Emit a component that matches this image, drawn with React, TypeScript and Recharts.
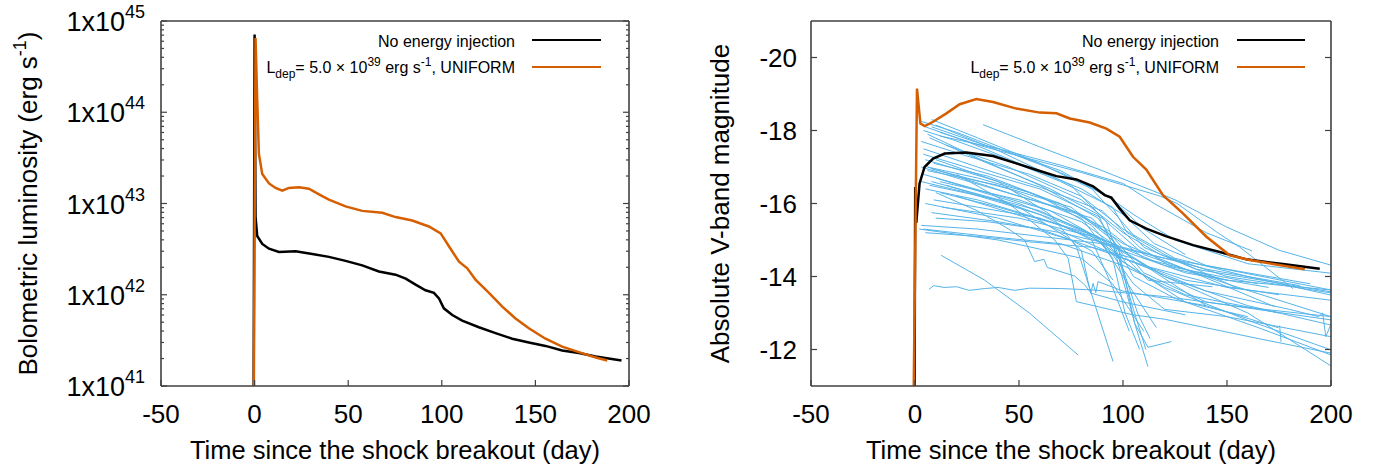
import { LineChart, Line, XAxis, YAxis, Legend } from 'recharts';

const FONT = '"Liberation Sans", Arial, Helvetica, sans-serif';
const AXIS = '#404040';
const BLACK = '#000000';
const ORANGE = '#d55e00';
const BLUE = '#56b4e9';

type Pt = [number, number];

const timeTicks = [-50, 0, 50, 100, 150, 200];
const lumDecades = [41, 42, 43, 44, 45];
const lumMinor = [2, 3, 4, 5, 6, 7, 8, 9];
const magTicks = [-20, -18, -16, -14, -12];

// bolometric light curves, [day, erg/s]
const lumNoInjection: Pt[] = [
  [-0.5, 1e41], [0, 7.1e44], [0.5, 7.2e42], [1.4, 4.4e42], [4.1, 3.6e42], [7.7, 3.2e42],
  [13, 2.95e42], [21.9, 3.0e42], [30.8, 2.8e42], [39.7, 2.6e42], [48.6, 2.35e42],
  [57.5, 2.1e42], [66.4, 1.8e42], [75.3, 1.66e42], [80.7, 1.5e42], [86, 1.29e42],
  [91.3, 1.12e42], [95.8, 1.05e42], [98.5, 9.1e41], [101.1, 7.1e41], [105.6, 6.0e41],
  [110.9, 5.2e41], [119.8, 4.4e41], [128.7, 3.8e41], [137.6, 3.3e41], [146.5, 3.0e41],
  [155.4, 2.75e41], [164.3, 2.45e41], [173.2, 2.3e41], [182.2, 2.1e41], [196, 1.9e41],
];
const lumUniform: Pt[] = [
  [-0.4, 1e41], [0.5, 6.5e44], [1.4, 1.35e44], [2.3, 3.5e43], [4.1, 2.1e43], [7.7, 1.66e43],
  [11.2, 1.48e43], [14.8, 1.38e43], [18.3, 1.48e43], [23.7, 1.51e43], [29, 1.45e43],
  [34.4, 1.26e43], [39.7, 1.1e43], [48.6, 9.3e42], [57.5, 8.3e42], [68.2, 7.9e42],
  [75.3, 7.1e42], [84.2, 6.5e42], [93.1, 5.6e42], [99.4, 4.7e42], [103.8, 3.4e42],
  [109.2, 2.3e42], [113.6, 1.95e42], [118.1, 1.45e42], [125.2, 1.05e42], [132.3, 7.4e41],
  [139.4, 5.5e41], [146.5, 4.3e41], [155.4, 3.3e41], [164.3, 2.7e41], [173.2, 2.35e41],
  [182.2, 2.05e41], [188.4, 1.9e41],
];

// V-band light curves, [day, mag]
const magNoInjection: Pt[] = [
  [-0.2, -11], [0.1, -16.45], [0.6, -15.47], [2.2, -16.55], [4.6, -17.0], [8.7, -17.23],
  [14.3, -17.37], [24.7, -17.4], [37.5, -17.3], [48.7, -17.1], [60, -16.89], [68, -16.75],
  [77.6, -16.66], [85.6, -16.47], [91.2, -16.23], [94.4, -16.16], [98.4, -15.86],
  [103.2, -15.54], [111.2, -15.31], [120.9, -15.1], [133.7, -14.86], [146.5, -14.67],
  [159.3, -14.47], [176.9, -14.34], [194.6, -14.21],
];
const magUniform: Pt[] = [
  [-0.6, -11], [0.96, -19.15], [2.6, -18.19], [4.7, -18.12], [8.7, -18.24], [15.1, -18.47],
  [21.5, -18.72], [29.5, -18.86], [37.5, -18.78], [48.7, -18.6], [60, -18.49], [68, -18.47],
  [74.4, -18.33], [84, -18.22], [92, -18.05], [98.4, -17.83], [104.8, -17.28],
  [111.2, -16.93], [119.2, -16.23], [128.8, -15.73], [140.1, -15.09], [151.3, -14.58],
  [160.9, -14.45], [173.7, -14.33], [187.4, -14.2],
];

// observed type II SNe, one array per object
const observedV: Pt[][] = [
  [[32.7, -18.16], [60, -17.55], [90, -16.9], [120, -16.22], [125, -16.1], [150, -15.35], [175, -14.72], [200, -14.31]],
  [[12, -17.95], [33.5, -17.55], [80, -16.85], [118, -16.2], [126, -16.0], [146, -15.18], [156, -14.81], [181.7, -13.67]],
  [[3, -18.25], [20, -17.95], [45, -17.4], [70, -16.85], [90, -16.3], [105, -15.7], [125, -15.0], [160, -14.35], [200, -14.09]],
  [[5, -18.1], [25, -17.7], [50, -17.1], [80, -16.4], [100, -15.7], [115, -14.9], [140, -14.3], [200, -13.63]],
  [[4, -18.0], [18, -17.75], [40, -17.3], [70, -16.6], [95, -15.9], [102, -15.2], [120, -14.6], [155, -13.68]],
  [[8, -18.3], [30, -17.8], [60, -17.1], [85, -16.4], [98, -15.6], [110, -14.8], [135, -14.2], [200, -13.58]],
  [[6, -17.9], [30, -17.25], [60, -16.5], [88, -15.6], [100, -14.6], [112, -13.9], [143, -13.72]],
  [[10, -18.15], [40, -17.45], [75, -16.5], [92, -15.5], [100, -14.2], [107, -13.0], [113, -12.3]],
  [[3, -17.7], [25, -17.3], [55, -16.8], [80, -16.2], [100, -15.3], [125, -14.5], [160, -14.0], [200, -13.49]],
  [[7, -17.8], [35, -17.1], [65, -16.4], [88, -15.7], [98, -14.5], [105, -13.1], [111, -12.0]],
  [[12, -17.85], [40, -17.5], [70, -16.9], [95, -16.1], [110, -15.3], [130, -14.6]],
  [[4, -17.5], [30, -17.0], [60, -16.45], [90, -15.8], [108, -14.8], [125, -14.2], [150, -13.9]],
  [[8, -18.1], [33.5, -17.6], [70, -17.05], [100, -16.55], [115, -16.0], [140, -15.2], [162, -14.7]],
  [[4, -17.35], [30, -16.9], [60, -16.4], [90, -15.6], [110, -14.6], [150, -13.8], [200, -12.9]],
  [[5, -17.2], [40, -16.6], [70, -16.0], [95, -15.1], [110, -14.1], [140, -13.3], [200, -12.81]],
  [[6, -17.0], [30, -16.7], [55, -16.3], [80, -15.7], [100, -14.9], [130, -14.2], [173, -13.17]],
  [[8, -16.95], [45, -16.4], [80, -15.6], [95, -14.5], [101, -13.0], [108, -12.0]],
  [[4, -16.8], [35, -16.3], [65, -15.8], [90, -15.0], [105, -13.8], [120, -13.1], [150, -12.9], [200, -12.35]],
  [[10, -16.7], [50, -16.0], [80, -15.3], [100, -14.5], [130, -13.9], [175, -13.5]],
  [[3, -16.6], [25, -16.3], [60, -15.7], [85, -15.0], [95, -13.7], [103, -12.5]],
  [[7, -16.5], [40, -16.1], [70, -15.5], [95, -14.9], [120, -14.3], [165, -13.8]],
  [[5, -16.4], [30, -16.1], [65, -15.5], [88, -15.1], [100, -14.0], [116, -12.6]],
  [[9, -17.1], [35, -16.75], [60, -16.2], [85, -15.4], [100, -14.4], [120, -13.7], [160, -12.8], [200, -11.99]],
  [[6, -16.9], [40, -16.5], [75, -15.9], [95, -15.0], [105, -14.0], [125, -13.4], [165, -12.6], [200, -11.85]],
  [[12, -16.6], [50, -16.1], [80, -15.5], [100, -14.7], [120, -14.0], [160, -13.0], [200, -11.55]],
  [[3, -17.0], [20, -16.7], [50, -16.2], [75, -15.8], [92, -15.3], [110, -14.5], [150, -13.9], [200, -13.63]],
  [[15, -17.6], [45, -17.0], [80, -16.1], [100, -15.2], [118, -14.6], [150, -14.0], [200, -13.55]],
  [[12, -16.3], [40, -15.9], [70, -15.4], [95, -14.8], [130, -14.1], [170, -13.7]],
  [[9, -16.1], [30, -15.9], [60, -15.6], [90, -15.0], [120, -14.0], [160, -13.2], [200, -12.67]],
  [[13, -15.9], [50, -15.6], [85, -15.1], [100, -14.4], [130, -13.3], [160, -12.9]],
  [[8, -15.75], [40, -15.5], [70, -15.2], [100, -14.8], [140, -14.2], [185, -13.75]],
  [[3, -15.4], [30, -15.3], [60, -15.1], [90, -14.9], [120, -14.5], [160, -14.1], [190, -13.8]],
  [[4, -15.3], [35, -15.1], [70, -14.9], [100, -14.3], [130, -13.5], [175, -13.0]],
  [[5, -15.2], [30, -15.1], [55, -14.95], [85, -14.8], [105, -14.5], [140, -13.2], [174.5, -12.6], [175.3, -12.65], [176, -12.21]],
  [[2, -15.3], [40, -15.0], [80, -14.5], [95, -13.8], [110, -12.5]],
  [[10, -15.6], [35, -15.5], [60, -15.3], [90, -14.7], [110, -14.3], [150, -13.7], [200, -13.35]],
  [[20, -16.2], [60, -15.5], [100, -14.5], [140, -13.6], [180, -13.1], [194, -12.9], [196, -13.0], [197.5, -12.35], [200, -12.7]],
  [[12.6, -14.58], [33.5, -13.9], [55, -13.0], [78.4, -11.85]],
  [[6.7, -13.65], [9, -13.75], [14, -13.7], [20, -13.72], [26, -13.62], [33.5, -13.67], [40, -13.7], [48, -13.62], [55, -13.68], [70, -13.67], [86, -13.63], [120, -13.45], [160, -13.15], [200, -12.9]],
  [[10, -16.3], [30, -15.8], [45, -15.3], [52.7, -15.0], [57.5, -14.41], [62, -14.47], [63.6, -14.25], [76.8, -14.01], [81.6, -13.77], [84.8, -13.54], [100, -13.3], [130, -12.95]],
  [[20, -16.8], [45, -16.0], [67.2, -15.0], [73.6, -14.5], [77.6, -13.31], [104.8, -12.95], [120, -12.83], [165, -12.3], [200, -11.9]],
  [[10, -17.2], [40, -16.6], [65, -15.7], [77.6, -14.82], [95.2, -11.67]],
  [[6, -17.0], [50, -16.2], [85, -15.6], [97.6, -14.82], [105.6, -12.72], [112, -11.53]],
  [[8, -16.6], [60, -15.8], [95, -14.9], [102, -13.5], [105.6, -12.72], [112, -12.06], [120, -12.17], [123.3, -12.22]],
  [[15, -16.5], [50, -15.9], [75, -15.0], [80, -14.7], [83.2, -13.86], [84.5, -13.54], [85.6, -13.81], [86.9, -13.56], [88, -13.86], [100, -13.6], [140, -13.2]],
  [[5, -16.0], [40, -15.6], [75, -15.0], [85, -14.7], [95.2, -13.9]],
];

const rows = (pts: Pt[]) => pts.map(([t, v]) => ({ t, v }));

const lumTicks = lumDecades.flatMap((d, i) =>
  i === lumDecades.length - 1 ? [10 ** d] : [10 ** d, ...lumMinor.map((m) => m * 10 ** d)]
);

const isDecade = (v: number) => {
  const e = Math.log10(v);
  return Math.abs(e - Math.round(e)) < 1e-6;
};

const axisLine = { stroke: AXIS, strokeWidth: 1.6 };

function BottomTick({ x, y, payload }: any) {
  return (
    <g>
      <line x1={x} x2={x} y1={y} y2={y - 6} stroke={AXIS} strokeWidth={1.2} />
      <text x={x} y={y + 37} textAnchor="middle" fontSize={26} fontFamily={FONT} fill="#000">
        {payload.value}
      </text>
    </g>
  );
}

function TopTick({ x, y }: any) {
  return <line x1={x} x2={x} y1={y} y2={y + 6} stroke={AXIS} strokeWidth={1.2} />;
}

function LumTick({ x, y, payload }: any) {
  const major = isDecade(payload.value);
  return (
    <g>
      <line x1={x} x2={x + (major ? 6 : 3)} y1={y} y2={y} stroke={AXIS} strokeWidth={1.2} />
      {major && (
        <text x={x - 16} y={y + 10} textAnchor="end" fontSize={27} fontFamily={FONT} fill="#000">
          1x10<tspan dy={-13} fontSize={18}>{Math.round(Math.log10(payload.value))}</tspan>
        </text>
      )}
    </g>
  );
}

function LumTickRight({ x, y, payload }: any) {
  const major = isDecade(payload.value);
  return <line x1={x} x2={x - (major ? 6 : 3)} y1={y} y2={y} stroke={AXIS} strokeWidth={1.2} />;
}

function MagTick({ x, y, payload }: any) {
  return (
    <g>
      <line x1={x} x2={x + 6} y1={y} y2={y} stroke={AXIS} strokeWidth={1.2} />
      <text x={x - 14} y={y + 9} textAnchor="end" fontSize={26} fontFamily={FONT} fill="#000">
        {payload.value}
      </text>
    </g>
  );
}

function MagTickRight({ x, y }: any) {
  return <line x1={x} x2={x - 6} y1={y} y2={y} stroke={AXIS} strokeWidth={1.2} />;
}

function TimeTitle({ viewBox }: any) {
  return (
    <text x={viewBox.x + viewBox.width / 2} y={viewBox.y + 73} textAnchor="middle" fontSize={25.5} fontFamily={FONT} fill="#000">
      Time since the shock breakout (day)
    </text>
  );
}

function VerticalTitle({ viewBox, baseX, children }: any) {
  const cy = viewBox.y + viewBox.height / 2;
  return (
    <text x={baseX} y={cy} transform={`rotate(-90, ${baseX}, ${cy})`} textAnchor="middle" fontSize={26} fontFamily={FONT} fill="#000">
      {children}
    </text>
  );
}

const sub = { fontSize: 12, position: 'relative', top: 5 } as const;
const sup = { fontSize: 12, position: 'relative', top: -7 } as const;

function CurveKey({ textRight, lineLeft, lineRight }: { textRight: number; lineLeft: number; lineRight: number }) {
  const label = {
    position: 'absolute', left: 0, width: textRight, textAlign: 'right', fontSize: 16,
    lineHeight: '20px', whiteSpace: 'nowrap', color: '#000', fontFamily: FONT,
  } as const;
  const swatch = (top: number, color: string) =>
    ({ position: 'absolute', left: lineLeft, width: lineRight - lineLeft, top, height: 2.5, background: color } as const);
  return (
    <div style={{ position: 'relative', width: '100%', height: 90 }}>
      <div style={{ ...label, top: 32 }}>No energy injection</div>
      <div style={swatch(38.8, BLACK)} />
      <div style={{ ...label, top: 58 }}>
        L<span style={sub}>dep</span>= 5.0 × 10<span style={sup}>39</span> erg s<span style={sup}>-1</span>, UNIFORM
      </div>
      <div style={swatch(65.5, ORANGE)} />
    </div>
  );
}

// plot boxes: left panel x 161..629, right panel x 121..641 (panel coords), y 21..386
function LuminosityPanel() {
  return (
    <LineChart width={690} height={470} margin={{ top: 20, right: 60, bottom: 83, left: 160 }}>
      <XAxis
        dataKey="t" type="number" domain={[-50, 200]} ticks={timeTicks} allowDataOverflow interval={0}
        height={1} tickSize={0} tickMargin={0} axisLine={axisLine} tickLine={false}
        tick={(p: any) => <BottomTick {...p} />} label={<TimeTitle />}
      />
      <XAxis
        xAxisId="top" orientation="top" type="number" domain={[-50, 200]} ticks={timeTicks} allowDataOverflow
        interval={0} height={1} tickSize={0} tickMargin={0} axisLine={axisLine} tickLine={false}
        tick={(p: any) => <TopTick {...p} />}
      />
      <YAxis
        scale="log" type="number" domain={[1e41, 1e45]} ticks={lumTicks} allowDataOverflow interval={0}
        width={1} tickSize={0} tickMargin={0} axisLine={axisLine} tickLine={false}
        tick={(p: any) => <LumTick {...p} />}
        label={
          <VerticalTitle baseX={37}>
            Bolometric luminosity (erg s<tspan dy={-11} fontSize={18}>-1</tspan><tspan dy={11}>)</tspan>
          </VerticalTitle>
        }
      />
      <YAxis
        yAxisId="right" orientation="right" scale="log" type="number" domain={[1e41, 1e45]} ticks={lumTicks}
        allowDataOverflow interval={0} width={1} tickSize={0} tickMargin={0} axisLine={axisLine} tickLine={false}
        tick={(p: any) => <LumTickRight {...p} />}
      />
      <Legend
        verticalAlign="middle" align="center" layout="horizontal"
        wrapperStyle={{ left: 0, top: 0, width: 690, height: 90 }}
        content={() => <CurveKey textRight={515} lineLeft={532} lineRight={601} />}
      />
      <Line data={rows(lumNoInjection)} dataKey="v" type="linear" stroke={BLACK} strokeWidth={2.5} dot={false} isAnimationActive={false} />
      <Line data={rows(lumUniform)} dataKey="v" type="linear" stroke={ORANGE} strokeWidth={2.5} dot={false} isAnimationActive={false} />
    </LineChart>
  );
}

function MagnitudePanel() {
  return (
    <LineChart width={689} height={470} margin={{ top: 20, right: 47, bottom: 83, left: 120 }}>
      <XAxis
        dataKey="t" type="number" domain={[-50, 200]} ticks={timeTicks} allowDataOverflow interval={0}
        height={1} tickSize={0} tickMargin={0} axisLine={axisLine} tickLine={false}
        tick={(p: any) => <BottomTick {...p} />} label={<TimeTitle />}
      />
      <XAxis
        xAxisId="top" orientation="top" type="number" domain={[-50, 200]} ticks={timeTicks} allowDataOverflow
        interval={0} height={1} tickSize={0} tickMargin={0} axisLine={axisLine} tickLine={false}
        tick={(p: any) => <TopTick {...p} />}
      />
      <YAxis
        type="number" domain={[-21, -11]} reversed ticks={magTicks} allowDataOverflow interval={0}
        width={1} tickSize={0} tickMargin={0} axisLine={axisLine} tickLine={false}
        tick={(p: any) => <MagTick {...p} />}
        label={<VerticalTitle baseX={39}>Absolute V-band magnitude</VerticalTitle>}
      />
      <YAxis
        yAxisId="right" orientation="right" type="number" domain={[-21, -11]} reversed ticks={magTicks}
        allowDataOverflow interval={0} width={1} tickSize={0} tickMargin={0} axisLine={axisLine} tickLine={false}
        tick={(p: any) => <MagTickRight {...p} />}
      />
      <Legend
        verticalAlign="middle" align="center" layout="horizontal"
        wrapperStyle={{ left: 0, top: 0, width: 689, height: 90 }}
        content={() => <CurveKey textRight={529} lineLeft={547} lineRight={615} />}
      />
      {observedV.map((sn, i) => (
        <Line
          key={`sn-${i}`} data={rows(sn)} dataKey="v" type="linear" stroke={BLUE} strokeWidth={1}
          dot={false} isAnimationActive={false} legendType="none"
        />
      ))}
      <Line data={rows(magNoInjection)} dataKey="v" type="linear" stroke={BLACK} strokeWidth={2.5} dot={false} isAnimationActive={false} />
      <Line data={rows(magUniform)} dataKey="v" type="linear" stroke={ORANGE} strokeWidth={2.5} dot={false} isAnimationActive={false} />
    </LineChart>
  );
}

export default function App() {
  return (
    <div style={{ position: 'absolute', left: 0, top: 0, width: 1379, height: 470, background: '#fff', fontFamily: FONT }}>
      <div style={{ position: 'absolute', left: 0, top: 0 }}>
        <LuminosityPanel />
      </div>
      <div style={{ position: 'absolute', left: 690, top: 0 }}>
        <MagnitudePanel />
      </div>
    </div>
  );
}
